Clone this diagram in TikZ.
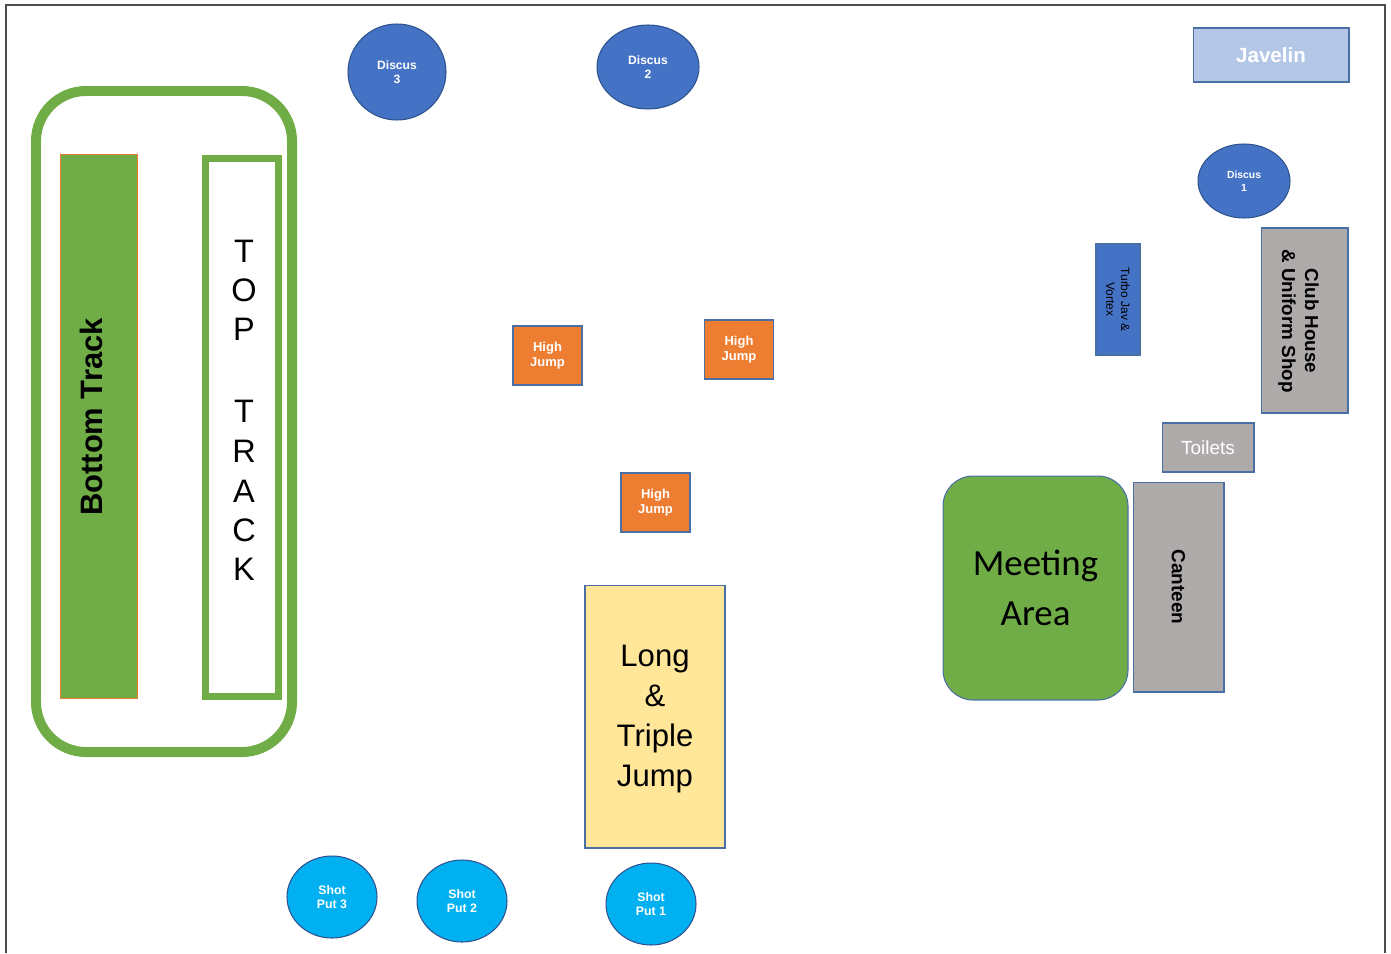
\documentclass[tikz,border=0pt]{standalone}
\usepackage{fontspec}
\setmainfont{Liberation Sans}
\newfontfamily\calibri{Carlito}
\usetikzlibrary{shapes.geometric}
\definecolor{grass}{HTML}{70AD47}
\definecolor{discblue}{HTML}{4472C4}
\definecolor{discedge}{HTML}{2F528F}
\definecolor{shotblue}{HTML}{00B0F0}
\definecolor{javfill}{HTML}{B4C7E7}
\definecolor{shed}{HTML}{AEAAAA}
\definecolor{hjorange}{HTML}{ED7D31}
\definecolor{sand}{HTML}{FFE699}
\definecolor{edge}{HTML}{4A6FA5}
\tikzset{
  box/.style={draw=edge, line width=0.6pt, inner sep=0pt, align=center},
  disc/.style={ellipse, draw=discedge, line width=0.6pt, fill=discblue, inner sep=0pt,
    text=white, align=center, font=\bfseries\fontsize{6.9}{8}\selectfont},
  shotput/.style={ellipse, draw=discedge, line width=0.6pt, fill=shotblue, inner sep=0pt,
    minimum width=1.8cm, minimum height=1.64cm,
    text=white, align=center, font=\bfseries\fontsize{7}{7.6}\selectfont},
  hj/.style={box, fill=hjorange, minimum width=1.38cm, minimum height=1.18cm,
    text=white, font=\bfseries\fontsize{7.4}{8.5}\selectfont}
}
\begin{document}
\begin{tikzpicture}[x=0.02cm,y=-0.02cm]
	\useasboundingbox (0,0) rectangle (1391,953);
	\draw[black!70, line width=1pt] (6,953) -- (6,5) -- (1385,5) -- (1385,953);
	% tracks
	\draw[grass, line width=0.2cm, rounded corners=1cm] (36,91) rectangle (292,752);
	\node[fill=grass, draw=hjorange, line width=0.5pt, minimum width=1.54cm, minimum height=10.88cm] (bottom) at (98.5,426) {};
	\node[rotate=90, font=\bfseries\fontsize{17.6}{20}\selectfont] (bottomlbl) at (91,417) {Bottom Track};
	\draw[grass, line width=0.14cm] (205.5,158.5) rectangle (278.5,696);
	\foreach \ltr/\ypos in {T/251,O/290,P/329,T/411,R/451,A/491,C/530,K/569}
		\node[font=\fontsize{18.5}{20}\selectfont] at (244,\ypos) {\ltr};
	% throws
	\node[disc, minimum width=1.96cm, minimum height=1.92cm] (disc3) at (397,72) {Discus\\3};
	\node[disc, minimum width=2.04cm, minimum height=1.68cm] (disc2) at (648,67) {Discus\\2};
	\node[disc, minimum width=1.84cm, minimum height=1.48cm, font=\bfseries\fontsize{5.9}{7.4}\selectfont] (disc1) at (1244,181) {Discus\\1};
	\node[box, fill=javfill, minimum width=3.12cm, minimum height=1.08cm, text=white, font=\bfseries\fontsize{11.7}{13}\selectfont] (javelin) at (1271,55) {Javelin};
	\node[box, fill=discblue, rotate=-90, minimum width=2.22cm, minimum height=0.88cm, font=\fontsize{6.8}{8.5}\selectfont] (turbo) at (1118,299.5) {Turbo Jav \&\\Vortex};
	\node[shotput] (shot3) at (332,897) {Shot\\Put 3};
	\node[shotput] (shot2) at (462,901) {Shot\\Put 2};
	\node[shotput] (shot1) at (651,904) {Shot\\Put 1};
	% jumps
	\node[hj] (hj1) at (547.5,355.5) {High\\Jump};
	\node[hj] (hj2) at (739,349.5) {High\\Jump};
	\node[hj] (hj3) at (655.5,502.5) {High\\Jump};
	\node[box, fill=sand, minimum width=2.8cm, minimum height=5.26cm] (longjump) at (655,716.5) {};
	\node[align=center, font=\fontsize{17.7}{22.7}\selectfont] (longlbl) at (655,719) {Long\\\&\\Triple\\Jump};
	% buildings
	\node[box, fill=shed, minimum width=1.74cm, minimum height=3.7cm] (club) at (1304.5,320.5) {};
	\node[rotate=-90, align=center, font=\bfseries\fontsize{10.7}{13}\selectfont] (clublbl) at (1298.5,321) {Club House\\\& Uniform Shop};
	\node[box, fill=shed, minimum width=1.84cm, minimum height=0.98cm, text=white, font=\fontsize{10.8}{12}\selectfont] (toilets) at (1208,447.5) {Toilets};
	\node[box, fill=grass, rounded corners=0.6cm, minimum width=3.7cm, minimum height=4.48cm, font=\calibri\fontsize{21}{28.5}\selectfont] (meeting) at (1035.5,588) {Meeting\\Area};
	\node[box, fill=shed, rotate=-90, minimum width=4.2cm, minimum height=1.82cm, font=\bfseries\fontsize{10.8}{12}\selectfont] (canteen) at (1178.5,587) {Canteen};
\end{tikzpicture}
\end{document}
